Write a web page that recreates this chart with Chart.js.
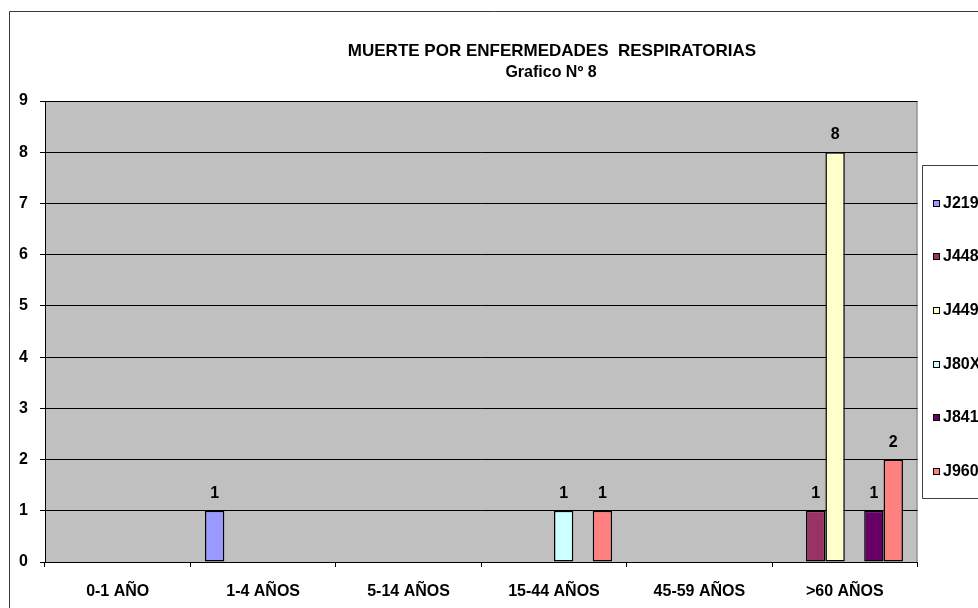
<!DOCTYPE html>
<html>
<head>
<meta charset="utf-8">
<title>Muerte por enfermedades respiratorias</title>
<script src="https://cdn.jsdelivr.net/npm/chart.js@4.4.0/dist/chart.umd.min.js"></script>
<style>
  html, body { margin: 0; padding: 0; background: #fff; overflow: hidden; }
  #wrap { width: 978px; height: 608px; }
</style>
</head>
<body>
<div id="wrap"><canvas id="chart" width="978" height="608"></canvas></div>
<script>
// Grafico Nº 8 - deaths from respiratory disease by age group

const titleLines = ['MUERTE POR ENFERMEDADES  RESPIRATORIAS', 'Grafico Nº 8'];
const ageGroups = ['0-1 AÑO', '1-4 AÑOS', '5-14 AÑOS', '15-44 AÑOS', '45-59 AÑOS', '>60 AÑOS'];
const yMin = 0;
const yMax = 9;
const yStep = 1;

// one array per ICD code, one value per age group
const seriesNames = ['J219', 'J448', 'J449', 'J80X', 'J841', 'J960'];
const j219 = [0, 1, 0, 0, 0, 0];
const j448 = [0, 0, 0, 0, 0, 1];
const j449 = [0, 0, 0, 0, 0, 8];
const j80x = [0, 0, 0, 1, 0, 0];
const j841 = [0, 0, 0, 0, 0, 1];
const j960 = [0, 0, 0, 1, 0, 2];
const seriesColors = ['#9999FF', '#993366', '#FFFFCC', '#CCFFFF', '#660066', '#FF8080'];

const FONT = "'Liberation Sans', Arial, sans-serif";

// Background, outer frame and grey plot area (Excel look)
const excelFrame = {
  id: 'excelFrame',
  beforeDraw(chart) {
    const { ctx, chartArea: a } = chart;
    ctx.save();
    ctx.fillStyle = '#fff';
    ctx.fillRect(0, 0, chart.width, chart.height);

    // outer chart border, right and bottom edges fall off the picture
    ctx.strokeStyle = '#3a3a3a';
    ctx.lineWidth = 1;
    ctx.beginPath();
    ctx.moveTo(9.5, chart.height + 5);
    ctx.lineTo(9.5, 11.5);
    ctx.lineTo(chart.width + 5, 11.5);
    ctx.stroke();

    ctx.fillStyle = '#C0C0C0';
    ctx.fillRect(a.left, a.top, a.right - a.left, a.bottom - a.top);
    ctx.strokeStyle = '#808080';
    ctx.strokeRect(a.left + 0.5, a.top + 0.5, a.right - a.left - 1, a.bottom - a.top);
    ctx.restore();
  },
  afterDraw(chart) {
    const { ctx } = chart;
    ctx.save();

    // title
    ctx.fillStyle = '#000';
    ctx.font = `bold 17px ${FONT}`;
    ctx.textAlign = 'center';
    ctx.textBaseline = 'middle';
    ctx.fillText(titleLines[0], 552, 51);
    ctx.font = `bold 16px ${FONT}`;
    ctx.fillText(titleLines[1], 551, 73);

    // legend box, cut by the right edge like the original
    const boxLeft = 922.5, boxTop = 165.5, boxBottom = 498.5;
    ctx.strokeStyle = '#404040';
    ctx.lineWidth = 1;
    ctx.beginPath();
    ctx.moveTo(chart.width + 5, boxTop);
    ctx.lineTo(boxLeft, boxTop);
    ctx.lineTo(boxLeft, boxBottom);
    ctx.lineTo(chart.width + 5, boxBottom);
    ctx.stroke();

    ctx.font = `bold 16px ${FONT}`;
    ctx.textAlign = 'left';
    chart.data.datasets.forEach((ds, i) => {
      const y = Math.round(boxTop + 38 + i * 53.7);
      ctx.fillStyle = ds.backgroundColor;
      ctx.fillRect(933, y - 4, 7, 7);
      ctx.strokeStyle = '#000';
      ctx.strokeRect(933.5, y - 3.5, 6, 6);
      ctx.fillStyle = '#000';
      ctx.fillText(ds.label, 943, y);
    });
    ctx.restore();
  }
};

// Value labels above each bar
const barValues = {
  id: 'barValues',
  afterDatasetsDraw(chart) {
    const { ctx } = chart;
    ctx.save();
    ctx.font = `bold 16px ${FONT}`;
    ctx.fillStyle = '#000';
    ctx.textAlign = 'center';
    ctx.textBaseline = 'alphabetic';
    chart.data.datasets.forEach((ds, i) => {
      const meta = chart.getDatasetMeta(i);
      meta.data.forEach((bar, j) => {
        const v = ds.data[j];
        if (v === null || v === undefined) return;
        ctx.fillText(String(v), bar.x, bar.y - 13);
      });
    });
    ctx.restore();
  }
};

const seriesData = [j219, j448, j449, j80x, j841, j960];

const datasets = seriesNames.map((name, i) => ({
  label: name,
  data: seriesData[i].map(v => (v === 0 ? null : v)),
  backgroundColor: seriesColors[i],
  borderColor: '#000',
  borderWidth: 1.5,
  borderSkipped: false,
  categoryPercentage: 0.8,
  barPercentage: 1.0
}));

new Chart(document.getElementById('chart'), {
  type: 'bar',
  data: { labels: ageGroups, datasets },
  options: {
    responsive: false,
    animation: false,
    layout: { padding: { top: 101, right: 60.5, bottom: 0, left: 0 } },
    plugins: {
      legend: { display: false },
      title: { display: false },
      tooltip: { enabled: false }
    },
    scales: {
      x: {
        grid: {
          offset: true,
          drawOnChartArea: false,
          drawTicks: true,
          tickLength: 5,
          color: '#000'
        },
        border: { color: '#000', width: 1 },
        ticks: {
          color: '#000',
          font: { family: FONT, size: 16, weight: 'bold' },
          padding: 15,
          maxRotation: 0,
          autoSkip: false
        },
        afterFit(scale) { scale.height = 46; }
      },
      y: {
        min: yMin,
        max: yMax,
        grid: {
          color: '#000',
          drawTicks: true,
          tickLength: 5
        },
        border: { color: '#000', width: 1 },
        ticks: {
          stepSize: yStep,
          color: '#000',
          font: { family: FONT, size: 16, weight: 'bold' },
          padding: 12
        },
        afterFit(scale) { scale.width = 45; }
      }
    }
  },
  plugins: [excelFrame, barValues]
});
</script>
</body>
</html>
